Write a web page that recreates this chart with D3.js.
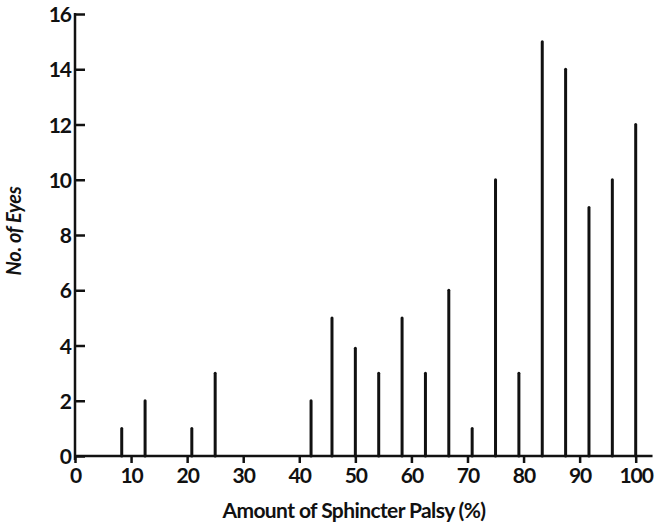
<!DOCTYPE html>
<html>
<head>
<meta charset="utf-8">
<script src="https://cdn.jsdelivr.net/npm/d3@7"></script>
<style>
  html, body { margin: 0; padding: 0; background: #fff; }
  svg text { font-family: "Lato", "DejaVu Sans", sans-serif; fill: #111; }
</style>
</head>
<body>
<svg id="chart" width="657" height="528"></svg>
<script>
// Sphincter palsy (% of sphincter affected) in steps of 1/24, and eye counts
const palsyPct = [100*2/24, 100*3/24, 100*5/24, 100*6/24, 42.1, 100*11/24, 100*12/24,
                  100*13/24, 100*14/24, 100*15/24, 100*16/24, 100*17/24, 100*18/24,
                  100*19/24, 100*20/24, 100*21/24, 100*22/24, 100*23/24, 100];
const eyeCounts = [1, 2, 1, 3, 2, 5, 3.9, 3, 5, 3, 6, 1, 10, 3, 15, 14, 9, 10, 12];
const xTicks = [0, 10, 20, 30, 40, 50, 60, 70, 80, 90, 100];
const yTicks = [0, 2, 4, 6, 8, 10, 12, 14, 16];
const xTitle = "Amount of Sphincter Palsy (%)";
const yTitle = "No. of Eyes";

const svg = d3.select("#chart");
const x = d3.scaleLinear().domain([0, 100]).range([75, 635.7]);
const y = d3.scaleLinear().domain([0, 16]).range([456, 14]);
const ink = "#111";

// vertical spikes
svg.append("g").selectAll("line")
  .data(palsyPct.map((p, i) => ({ p, n: eyeCounts[i] })))
  .join("line")
  .attr("x1", d => x(d.p)).attr("x2", d => x(d.p))
  .attr("y1", y(0)).attr("y2", d => y(d.n))
  .attr("stroke", ink).attr("stroke-width", 3).attr("stroke-linecap", "round");

// y axis: ticks point into the plot
const yAxis = svg.append("g").attr("transform", `translate(${x(0)},0)`)
  .call(d3.axisLeft(y).tickValues(yTicks).tickSize(-10).tickSizeOuter(0).tickPadding(4));
yAxis.select(".domain").remove();
yAxis.selectAll(".tick line").attr("stroke", ink).attr("stroke-width", 2.5);
yAxis.selectAll(".tick text").attr("font-size", 21).attr("font-weight", 700)
  .attr("letter-spacing", -1).attr("dy", "0.36em");
yAxis.append("line").attr("x1", 0).attr("x2", 0)
  .attr("y1", y(0) + 4).attr("y2", y(16) - 1)
  .attr("stroke", ink).attr("stroke-width", 2.5);

// x axis: ticks hang below the baseline
const xAxis = svg.append("g").attr("transform", `translate(0,${y(0)})`)
  .call(d3.axisBottom(x).tickValues(xTicks).tickSize(7).tickSizeOuter(0).tickPadding(4));
xAxis.select(".domain").remove();
xAxis.selectAll(".tick line").attr("stroke", ink).attr("stroke-width", 2.5);
xAxis.selectAll(".tick text").attr("font-size", 21).attr("font-weight", 700)
  .attr("letter-spacing", -1).attr("dy", "0.75em");
xAxis.append("line").attr("x1", x(0) - 1).attr("x2", x(103))
  .attr("y1", 0).attr("y2", 0)
  .attr("stroke", ink).attr("stroke-width", 2.5);

// axis titles
svg.append("text").attr("x", 354).attr("y", 518).attr("text-anchor", "middle")
  .attr("font-size", 21).attr("font-weight", 700).attr("letter-spacing", -0.6)
  .text(xTitle);
svg.append("text").attr("transform", "translate(21,231) rotate(-90)")
  .attr("text-anchor", "middle").attr("font-size", 20).attr("font-weight", 700)
  .attr("font-style", "italic").attr("letter-spacing", -0.3)
  .text(yTitle);
</script>
</body>
</html>
